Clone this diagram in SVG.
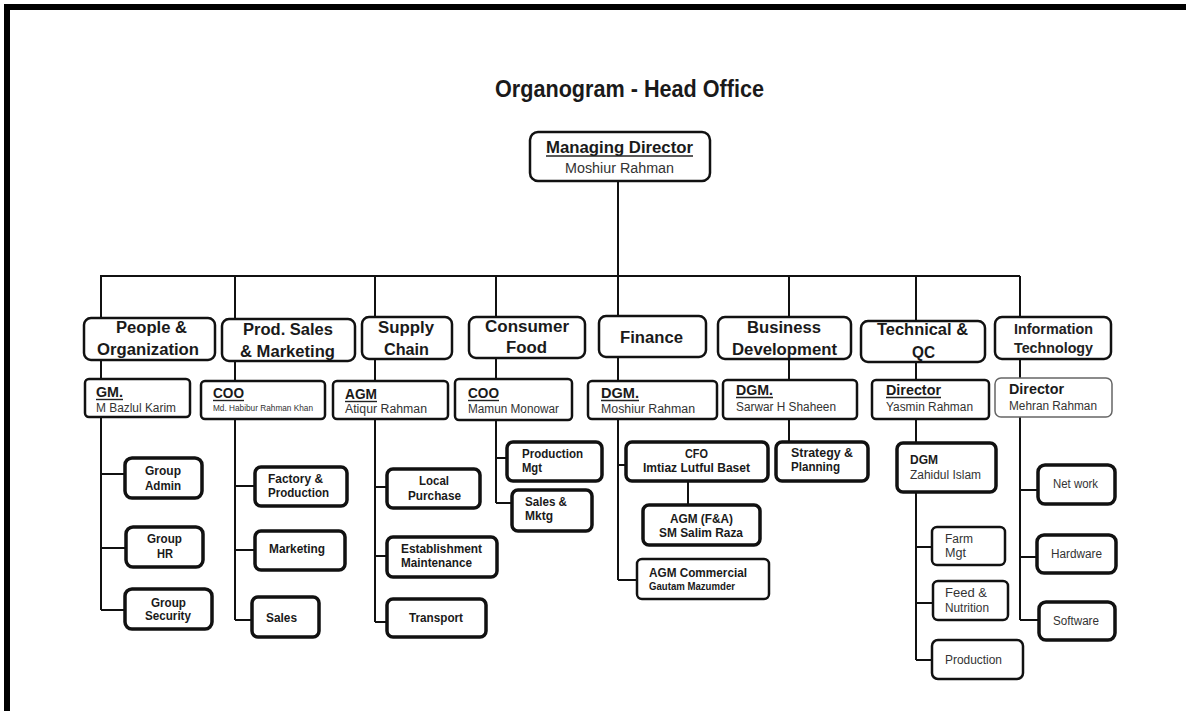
<svg xmlns="http://www.w3.org/2000/svg" width="1186" height="711" viewBox="0 0 1186 711">
<style>
text{font-family:"Liberation Sans",Arial,sans-serif;fill:#1a1a1a}
.t{font-weight:bold;font-size:23px}
.h{font-weight:bold;font-size:16px}
.hs{font-weight:bold;font-size:14.5px;fill:#222}
.r{font-weight:bold;font-size:14.5px}
.n{font-size:12.5px;fill:#333}
.s{font-weight:bold;font-size:12.5px}
.p{font-size:12.5px;fill:#333}
.bx{fill:#fff;stroke:#111}
.b2{stroke-width:2.5}
.b3{stroke-width:3.5}
.b1{stroke-width:1.5;stroke:#666}
.c{fill:none;stroke:#111;stroke-width:2}
.u{stroke:#222;stroke-width:1.4}
</style>
<rect width="1186" height="711" fill="#fff"/>
<path d="M7 711 V7 H1186" fill="none" stroke="#000" stroke-width="6"/>
<text class="t" x="495" y="97" textLength="269" lengthAdjust="spacingAndGlyphs">Organogram - Head Office</text>

<g id="connectors">
<path class="c" d="M618 181 V419 M100 276 H1020"/>
<path class="c" d="M101 276 V610 M101 474 H125 M101 548 H126 M101 610 H125"/>
<path class="c" d="M235 276 V620 M235 486 H255 M235 550 H255 M235 620 H252"/>
<path class="c" d="M375 276 V622 M375 487 H387 M375 556 H387 M375 622 H387"/>
<path class="c" d="M496 276 V503 M496 458 H507 M496 503 H512"/>
<path class="c" d="M618 419 V580 M618 465 H626 M618 580 H637 M688 481 V505"/>
<path class="c" d="M789 276 V442"/>
<path class="c" d="M916 276 V660 M916 547 H932 M916 603 H933 M916 660 H932"/>
<path class="c" d="M1020 276 V620 M1020 490 H1038 M1020 557 H1037 M1020 620 H1039"/>
</g>

<g id="md">
<rect class="bx b2" x="530" y="132" width="180" height="49" rx="8"/>
<text class="h" x="546" y="153" textLength="147" lengthAdjust="spacingAndGlyphs">Managing Director</text>
<line class="u" x1="546" y1="156" x2="693" y2="156"/>
<text class="n" x="565" y="173" textLength="109" lengthAdjust="spacingAndGlyphs" style="font-size:14px">Moshiur Rahman</text>
</g>

<g id="people-org">
<rect class="bx b2" x="84" y="318" width="131" height="42" rx="7"/>
<text class="h" x="116" y="333" textLength="71" lengthAdjust="spacingAndGlyphs">People &amp;</text>
<text class="h" x="97" y="355" textLength="102" lengthAdjust="spacingAndGlyphs">Organization</text>
</g>
<g id="prod-sales">
<rect class="bx b2" x="222" y="319" width="133" height="42" rx="7"/>
<text class="h" x="243" y="335" textLength="90" lengthAdjust="spacingAndGlyphs">Prod. Sales</text>
<text class="h" x="240" y="357" textLength="95" lengthAdjust="spacingAndGlyphs">&amp; Marketing</text>
</g>
<g id="supply-chain">
<rect class="bx b2" x="362" y="317" width="90" height="42" rx="7"/>
<text class="h" x="378" y="333" textLength="56" lengthAdjust="spacingAndGlyphs">Supply</text>
<text class="h" x="384" y="355" textLength="45" lengthAdjust="spacingAndGlyphs">Chain</text>
</g>
<g id="consumer-food">
<rect class="bx b2" x="469" y="317" width="116" height="41" rx="7"/>
<text class="h" x="485" y="332" textLength="84" lengthAdjust="spacingAndGlyphs">Consumer</text>
<text class="h" x="506" y="353" textLength="41" lengthAdjust="spacingAndGlyphs">Food</text>
</g>
<g id="finance">
<rect class="bx b2" x="599" y="316" width="107" height="41" rx="7"/>
<text class="h" x="620" y="343" textLength="63" lengthAdjust="spacingAndGlyphs">Finance</text>
</g>
<g id="business-dev">
<rect class="bx b2" x="718" y="317" width="133" height="42" rx="7"/>
<text class="h" x="747" y="333" textLength="74" lengthAdjust="spacingAndGlyphs">Business</text>
<text class="h" x="732" y="355" textLength="105" lengthAdjust="spacingAndGlyphs">Development</text>
</g>
<g id="technical-qc">
<rect class="bx b2" x="861" y="321" width="124" height="41" rx="7"/>
<text class="h" x="877" y="335" textLength="91" lengthAdjust="spacingAndGlyphs">Technical &amp;</text>
<text class="h" x="912" y="358" textLength="23" lengthAdjust="spacingAndGlyphs">QC</text>
</g>
<g id="info-tech">
<rect class="bx b2" x="995" y="317" width="116" height="42" rx="7"/>
<text class="hs" x="1014" y="334" textLength="79" lengthAdjust="spacingAndGlyphs">Information</text>
<text class="hs" x="1014" y="353" textLength="79" lengthAdjust="spacingAndGlyphs">Technology</text>
</g>

<g id="gm">
<rect class="bx b2" x="85" y="379" width="105" height="38" rx="4"/>
<text class="r" x="96" y="397" textLength="27" lengthAdjust="spacingAndGlyphs">GM.</text>
<line class="u" x1="96" y1="399.5" x2="123" y2="399.5"/>
<text class="n" x="96" y="412" textLength="80" lengthAdjust="spacingAndGlyphs">M Bazlul Karim</text>
</g>
<g id="coo-psm">
<rect class="bx b2" x="201" y="381" width="124" height="38" rx="4"/>
<text class="r" x="213" y="398" textLength="31" lengthAdjust="spacingAndGlyphs">COO</text>
<line class="u" x1="213" y1="400.5" x2="244" y2="400.5"/>
<text class="n" x="213" y="411" textLength="100" lengthAdjust="spacingAndGlyphs" style="font-size:9px">Md. Habibur Rahman Khan</text>
</g>
<g id="agm-sc">
<rect class="bx b2" x="333" y="381" width="115" height="38" rx="4"/>
<text class="r" x="345" y="399" textLength="32" lengthAdjust="spacingAndGlyphs">AGM</text>
<line class="u" x1="345" y1="401.5" x2="377" y2="401.5"/>
<text class="n" x="345" y="413" textLength="82" lengthAdjust="spacingAndGlyphs">Atiqur  Rahman</text>
</g>
<g id="coo-cf">
<rect class="bx b2" x="455" y="379" width="117" height="41" rx="4"/>
<text class="r" x="468" y="398" textLength="31" lengthAdjust="spacingAndGlyphs">COO</text>
<line class="u" x1="468" y1="400.5" x2="499" y2="400.5"/>
<text class="n" x="468" y="413" textLength="91" lengthAdjust="spacingAndGlyphs">Mamun Monowar</text>
</g>
<g id="dgm-fin">
<rect class="bx b2" x="588" y="381" width="129" height="38" rx="4"/>
<text class="r" x="601" y="398" textLength="38" lengthAdjust="spacingAndGlyphs">DGM.</text>
<line class="u" x1="601" y1="400.5" x2="639" y2="400.5"/>
<text class="n" x="601" y="413" textLength="94" lengthAdjust="spacingAndGlyphs">Moshiur  Rahman</text>
</g>
<g id="dgm-bd">
<rect class="bx b2" x="723" y="380" width="134" height="39" rx="4"/>
<text class="r" x="736" y="395" textLength="37" lengthAdjust="spacingAndGlyphs">DGM.</text>
<line class="u" x1="736" y1="397.5" x2="773" y2="397.5"/>
<text class="n" x="736" y="411" textLength="100" lengthAdjust="spacingAndGlyphs">Sarwar H Shaheen</text>
</g>
<g id="dir-tqc">
<rect class="bx b2" x="872" y="380" width="117" height="39" rx="4"/>
<text class="r" x="886" y="395" textLength="55" lengthAdjust="spacingAndGlyphs">Director</text>
<line class="u" x1="886" y1="397.5" x2="941" y2="397.5"/>
<text class="n" x="886" y="411" textLength="87" lengthAdjust="spacingAndGlyphs">Yasmin Rahman</text>
</g>
<g id="dir-it">
<rect class="bx b1" x="995" y="378" width="117" height="39" rx="6"/>
<text class="r" x="1009" y="394" textLength="55" lengthAdjust="spacingAndGlyphs">Director</text>
<text class="n" x="1009" y="410" textLength="88" lengthAdjust="spacingAndGlyphs">Mehran Rahman</text>
</g>

<g id="group-admin">
<rect class="bx b3" x="125" y="458" width="77" height="40" rx="7"/>
<text class="s" x="145" y="475" textLength="36" lengthAdjust="spacingAndGlyphs">Group</text>
<text class="s" x="145" y="490" textLength="36" lengthAdjust="spacingAndGlyphs">Admin</text>
</g>
<g id="group-hr">
<rect class="bx b3" x="126" y="527" width="77" height="40" rx="7"/>
<text class="s" x="147" y="543" textLength="35" lengthAdjust="spacingAndGlyphs">Group</text>
<text class="s" x="157" y="558" textLength="16" lengthAdjust="spacingAndGlyphs">HR</text>
</g>
<g id="group-security">
<rect class="bx b3" x="125" y="589" width="87" height="40" rx="7"/>
<text class="s" x="151" y="607" textLength="35" lengthAdjust="spacingAndGlyphs">Group</text>
<text class="s" x="145" y="620" textLength="46" lengthAdjust="spacingAndGlyphs">Security</text>
</g>
<g id="factory">
<rect class="bx b3" x="255" y="467" width="92" height="39" rx="6"/>
<text class="s" x="268" y="483" textLength="55" lengthAdjust="spacingAndGlyphs">Factory &amp;</text>
<text class="s" x="268" y="497" textLength="61" lengthAdjust="spacingAndGlyphs">Production</text>
</g>
<g id="marketing">
<rect class="bx b3" x="255" y="531" width="90" height="39" rx="6"/>
<text class="s" x="269" y="553" textLength="56" lengthAdjust="spacingAndGlyphs">Marketing</text>
</g>
<g id="sales">
<rect class="bx b3" x="252" y="597" width="67" height="40" rx="6"/>
<text class="s" x="266" y="622" textLength="31" lengthAdjust="spacingAndGlyphs">Sales</text>
</g>
<g id="local-purchase">
<rect class="bx b3" x="387" y="469" width="93" height="39" rx="6"/>
<text class="s" x="419" y="485" textLength="30" lengthAdjust="spacingAndGlyphs">Local</text>
<text class="s" x="408" y="500" textLength="53" lengthAdjust="spacingAndGlyphs">Purchase</text>
</g>
<g id="establishment">
<rect class="bx b3" x="387" y="537" width="110" height="40" rx="6"/>
<text class="s" x="401" y="553" textLength="81" lengthAdjust="spacingAndGlyphs">Establishment</text>
<text class="s" x="401" y="567" textLength="71" lengthAdjust="spacingAndGlyphs">Maintenance</text>
</g>
<g id="transport">
<rect class="bx b3" x="387" y="599" width="99" height="38" rx="6"/>
<text class="s" x="409" y="622" textLength="54" lengthAdjust="spacingAndGlyphs">Transport</text>
</g>
<g id="production-mgt">
<rect class="bx b3" x="507" y="442" width="95" height="39" rx="6"/>
<text class="s" x="522" y="458" textLength="61" lengthAdjust="spacingAndGlyphs">Production</text>
<text class="s" x="522" y="472" textLength="20" lengthAdjust="spacingAndGlyphs">Mgt</text>
</g>
<g id="sales-mktg">
<rect class="bx b3" x="512" y="490" width="80" height="41" rx="6"/>
<text class="s" x="525" y="506" textLength="42" lengthAdjust="spacingAndGlyphs">Sales &amp;</text>
<text class="s" x="525" y="520" textLength="28" lengthAdjust="spacingAndGlyphs">Mktg</text>
</g>
<g id="cfo">
<rect class="bx b3" x="626" y="442" width="142" height="39" rx="6"/>
<text class="s" x="685" y="458" textLength="23" lengthAdjust="spacingAndGlyphs">CFO</text>
<text class="s" x="643" y="472" textLength="107" lengthAdjust="spacingAndGlyphs">Imtiaz Lutful Baset</text>
</g>
<g id="agm-fa">
<rect class="bx b3" x="643" y="505" width="117" height="40" rx="6"/>
<text class="s" x="670" y="523" textLength="63" lengthAdjust="spacingAndGlyphs">AGM (F&amp;A)</text>
<text class="s" x="659" y="537" textLength="84" lengthAdjust="spacingAndGlyphs">SM Salim Raza</text>
</g>
<g id="agm-commercial">
<rect class="bx b2" x="637" y="559" width="132" height="40" rx="5"/>
<text class="s" x="649" y="577" textLength="98" lengthAdjust="spacingAndGlyphs" style="font-size:13.5px">AGM Commercial</text>
<text class="s" x="649" y="590" textLength="86" lengthAdjust="spacingAndGlyphs" style="font-size:10px">Gautam Mazumder</text>
</g>
<g id="strategy">
<rect class="bx b3" x="776" y="442" width="92" height="39" rx="6"/>
<text class="s" x="791" y="457" textLength="62" lengthAdjust="spacingAndGlyphs">Strategy  &amp;</text>
<text class="s" x="791" y="471" textLength="49" lengthAdjust="spacingAndGlyphs">Planning</text>
</g>
<g id="dgm-tqc">
<rect class="bx b3" x="897" y="443" width="99" height="49" rx="6"/>
<text class="s" x="910" y="464" textLength="28" lengthAdjust="spacingAndGlyphs">DGM</text>
<text class="p" x="910" y="479" textLength="71" lengthAdjust="spacingAndGlyphs">Zahidul Islam</text>
</g>
<g id="farm-mgt">
<rect class="bx b2" x="932" y="527" width="73" height="38" rx="5"/>
<text class="p" x="945" y="543" textLength="28" lengthAdjust="spacingAndGlyphs">Farm</text>
<text class="p" x="945" y="557" textLength="21" lengthAdjust="spacingAndGlyphs">Mgt</text>
</g>
<g id="feed-nutrition">
<rect class="bx b2" x="933" y="581" width="75" height="39" rx="5"/>
<text class="p" x="945" y="597" textLength="42" lengthAdjust="spacingAndGlyphs">Feed  &amp;</text>
<text class="p" x="945" y="612" textLength="44" lengthAdjust="spacingAndGlyphs">Nutrition</text>
</g>
<g id="production-tqc">
<rect class="bx b2" x="932" y="640" width="91" height="39" rx="6"/>
<text class="p" x="945" y="664" textLength="57" lengthAdjust="spacingAndGlyphs">Production</text>
</g>
<g id="network">
<rect class="bx b3" x="1038" y="465" width="77" height="39" rx="7"/>
<text class="p" x="1053" y="488" textLength="45" lengthAdjust="spacingAndGlyphs">Net work</text>
</g>
<g id="hardware">
<rect class="bx b3" x="1037" y="535" width="79" height="38" rx="7"/>
<text class="p" x="1051" y="558" textLength="51" lengthAdjust="spacingAndGlyphs">Hardware</text>
</g>
<g id="software">
<rect class="bx b3" x="1039" y="602" width="76" height="38" rx="7"/>
<text class="p" x="1053" y="625" textLength="46" lengthAdjust="spacingAndGlyphs">Software</text>
</g>
</svg>
